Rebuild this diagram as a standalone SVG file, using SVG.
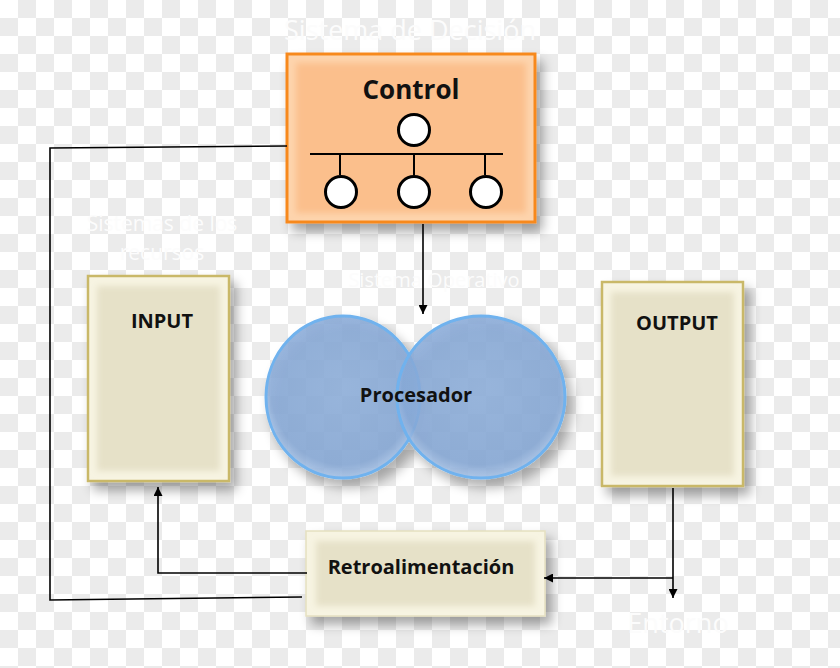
<svg xmlns="http://www.w3.org/2000/svg" width="840" height="668" viewBox="0 0 840 668">
  <defs>
    <pattern id="checker" x="0" y="0" width="36" height="36" patternUnits="userSpaceOnUse">
      <rect width="36" height="36" fill="#ffffff"/>
      <rect x="18" y="0" width="18" height="18" fill="#ebebeb"/>
      <rect x="0" y="18" width="18" height="18" fill="#ebebeb"/>
    </pattern>
    <filter id="shadow" x="-20%" y="-20%" width="150%" height="150%">
      <feGaussianBlur in="SourceAlpha" stdDeviation="6"/>
      <feOffset dx="6" dy="8" result="b"/>
      <feComponentTransfer><feFuncA type="linear" slope="0.35"/></feComponentTransfer>
      <feMerge><feMergeNode/><feMergeNode in="SourceGraphic"/></feMerge>
    </filter>
    <filter id="soft" x="-10%" y="-10%" width="120%" height="120%">
      <feGaussianBlur stdDeviation="3"/>
    </filter>
    <marker id="arrow" viewBox="0 0 10 10" refX="10" refY="5" markerWidth="9" markerHeight="9" markerUnits="userSpaceOnUse" orient="auto">
      <path d="M0,0 L10,5 L0,10 z" fill="#000"/>
    </marker>
    <radialGradient id="blueFill" cx="50%" cy="45%" r="55%">
      <stop offset="0" stop-color="#8fb0dc"/>
      <stop offset="0.85" stop-color="#86a8d6"/>
      <stop offset="1" stop-color="#a7c3e8"/>
    </radialGradient>
    <style>
      .wtext { font-family: "Open Sans", "Liberation Sans", sans-serif; fill: #fcfcfc; text-anchor: middle; }
      .label { font-family: "Open Sans", "Liberation Sans", sans-serif; font-weight: bold; fill: #111; text-anchor: middle; }
      .conn { fill: none; stroke: #000; stroke-width: 1.6; }
      .beige-outer { fill: #f7f4e2; stroke: #c9b868; stroke-width: 2.5; }
      .beige-inner { fill: #e6e1c8; }
      .node-circle { fill: #fff; stroke: #000; stroke-width: 3; }
      .circle { fill: url(#blueFill); fill-opacity: 0.85; stroke: #6fb2ee; stroke-width: 3; }
    </style>
  </defs>

  <rect width="840" height="668" fill="url(#checker)"/>

  <!-- white labels -->
  <text class="wtext" x="410" y="40" font-size="27">Sistema de Decisión</text>
  <text class="wtext" x="162" y="231" font-size="21">Sistemas de los</text>
  <text class="wtext" x="162" y="260" font-size="21">recursos</text>
  <text class="wtext" x="434" y="287" font-size="20">Sistema Operativo</text>
  <text class="wtext" x="678" y="633" font-size="27">Entorno</text>

  <!-- Control -->
  <g id="control">
    <g filter="url(#shadow)">
      <rect x="287" y="54" width="248" height="168" fill="#fdd4ad" stroke="#f7891f" stroke-width="3"/>
    </g>
    <rect x="296" y="63" width="230" height="150" fill="#fbbf8c" filter="url(#soft)"/>
    <text class="label" x="411" y="99" font-size="26">Control</text>
    <circle class="node-circle" cx="414" cy="130" r="15.5"/>
    <line x1="310" y1="154" x2="503" y2="154" stroke="#000" stroke-width="2"/>
    <line x1="340" y1="154" x2="340" y2="175" stroke="#000" stroke-width="2"/>
    <line x1="414" y1="154" x2="414" y2="175" stroke="#000" stroke-width="2"/>
    <line x1="485" y1="154" x2="485" y2="175" stroke="#000" stroke-width="2"/>
    <circle class="node-circle" cx="341" cy="192" r="15.5"/>
    <circle class="node-circle" cx="414" cy="192" r="15.5"/>
    <circle class="node-circle" cx="486" cy="192" r="15.5"/>
  </g>

  <!-- INPUT -->
  <g id="input">
    <g filter="url(#shadow)">
      <rect class="beige-outer" x="88" y="276" width="141" height="205"/>
    </g>
    <rect class="beige-inner" x="97" y="286" width="123" height="185" filter="url(#soft)"/>
    <text class="label" x="162" y="328" font-size="20">INPUT</text>
  </g>

  <!-- OUTPUT -->
  <g id="output">
    <g filter="url(#shadow)">
      <rect class="beige-outer" x="602" y="282" width="141" height="204"/>
    </g>
    <rect class="beige-inner" x="611" y="292" width="123" height="184" filter="url(#soft)"/>
    <text class="label" x="677" y="330" font-size="20">OUTPUT</text>
  </g>

  <!-- Procesador -->
  <g id="procesador">
    <g filter="url(#shadow)">
      <ellipse class="circle" cx="343" cy="397" rx="77" ry="81"/>
      <ellipse class="circle" cx="481" cy="397" rx="84" ry="81"/>
    </g>
    <text class="label" x="416" y="402" font-size="20">Procesador</text>
  </g>

  <!-- Retroalimentacion -->
  <g id="retroalimentacion">
    <g filter="url(#shadow)">
      <rect x="306" y="531" width="239" height="85" fill="#f7f4e2" stroke="#e5dfc0" stroke-width="1.5"/>
    </g>
    <rect x="316" y="541" width="219" height="65" fill="#e6e1c8" filter="url(#soft)"/>
    <text class="label" x="421" y="574" font-size="20">Retroalimentación</text>
  </g>

  <!-- connectors -->
  <g id="connectors">
    <polyline class="conn" points="287,146 50,148 50,600 302,597"/>
    <line class="conn" x1="423" y1="224" x2="423" y2="314" marker-end="url(#arrow)"/>
    <polyline class="conn" points="307,573 158,573 158,487" marker-end="url(#arrow)"/>
    <line class="conn" x1="673" y1="488" x2="673" y2="598" marker-end="url(#arrow)"/>
    <line class="conn" x1="673" y1="578" x2="544" y2="578" marker-end="url(#arrow)"/>
  </g>
</svg>
